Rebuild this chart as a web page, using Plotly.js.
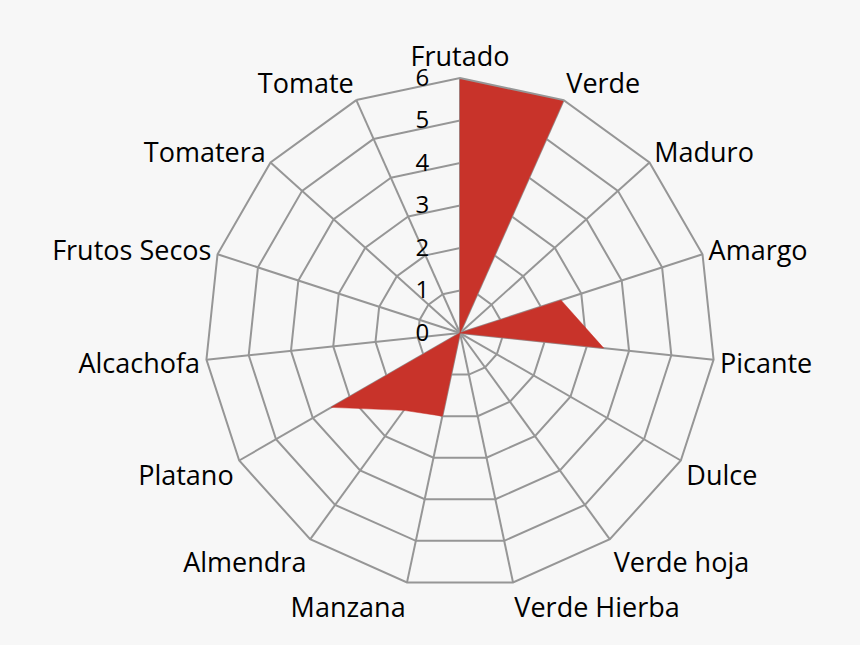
<!DOCTYPE html>
<html>
<head>
<meta charset="utf-8">
<script src="https://cdn.plot.ly/plotly-3.0.1.min.js"></script>
<style>
  html, body { margin: 0; padding: 0; background: #f7f7f7; }
  #grafico { width: 860px; height: 645px; }
</style>
</head>
<body>
<div id="grafico"></div>
<script>
// Atributos del panel de cata (sentido horario desde arriba)
const atributos = ["Frutado", "Verde", "Maduro", "Amargo", "Picante", "Dulce", "Verde hoja",
  "Verde Hierba", "Manzana", "Almendra", "Platano", "Alcachofa", "Frutos Secos", "Tomatera", "Tomate"];

// Intensidad de cada atributo
const intensidad = [6, 6, 0, 2.5, 3.4, 0, 0, 0, 2, 2.25, 3.5, 0, 0, 0, 0];

// Marcas de la escala radial
const marcas = [0, 1, 2, 3, 4, 5, 6];

// Cerramos el polígono repitiendo el primer punto
const theta = atributos.concat([atributos[0]]);
const r = intensidad.concat([intensidad[0]]);

const traza = {
  type: "scatterpolar",
  theta: theta,
  r: r,
  mode: "lines",
  fill: "toself",
  fillcolor: "#c8332a",
  line: { color: "#c8332a", width: 0.5 },
  hoverinfo: "none",
};

const gris = "#969696";

const layout = {
  paper_bgcolor: "#f7f7f7",
  plot_bgcolor: "#f7f7f7",
  showlegend: false,
  margin: { l: 0, r: 0, t: 0, b: 0 },
  font: { family: "'Open Sans', sans-serif", color: "#000", size: 27 },
  polar: {
    bgcolor: "#f7f7f7",
    domain: { x: [0.2384, 0.8314], y: [0.0884, 0.879] },
    gridshape: "linear",
    radialaxis: {
      range: [0, 6],
      tickvals: marcas,
      ticktext: marcas.map(String),
      angle: 90,
      tickangle: 90,
      side: "counterclockwise",
      showline: false,
      ticks: "outside",
      ticklen: 22,
      tickcolor: "rgba(0,0,0,0)", // marcas invisibles, solo separan el texto
      showgrid: true,
      gridcolor: gris,
      gridwidth: 2,
      layer: "above traces",
      tickfont: { size: 24 },
    },
    angularaxis: {
      direction: "clockwise",
      rotation: 90,
      showgrid: true,
      gridcolor: gris,
      gridwidth: 2,
      showline: true,
      linecolor: gris,
      linewidth: 2,
      ticks: "",
      layer: "above traces",
      tickfont: { size: 27 },
    },
  },
};

Plotly.newPlot("grafico", [traza], layout, { displayModeBar: false, staticPlot: true });
</script>
</body>
</html>
